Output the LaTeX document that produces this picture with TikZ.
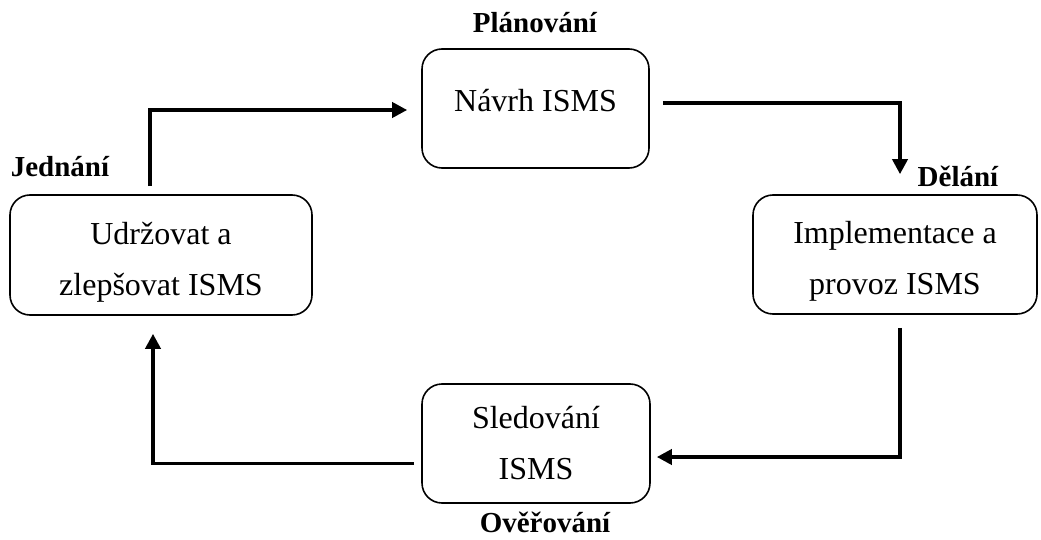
\documentclass[tikz,border=0pt]{standalone}
\usepackage{fontspec}
\setmainfont{Liberation Serif}
\usepackage{tikz}
\usetikzlibrary{positioning, arrows.meta}

\begin{document}
\begin{tikzpicture}[
  x=1pt, y=-1pt,
  stage/.style={rectangle, rounded corners=20pt, draw, line width=1.6pt,
                minimum height=119pt, align=center, inner sep=0pt,
                font=\fontsize{32}{51}\selectfont},
  phase/.style={font=\fontsize{29}{34}\selectfont\bfseries, inner sep=0pt,
                anchor=base},
  arr/.style={-{Triangle[length=15pt, width=15pt]}, line width=3.6pt}
]
\useasboundingbox (0,0) rectangle (1041,540);

% Boxes of the cycle
\node[stage, minimum width=227pt, text depth=16pt] (navrh) at (535.5,108.5) {Návrh ISMS};
\node[stage, minimum width=284pt] (impl) at (895,254.5) {\rule{0pt}{36pt}Implementace a\\provoz ISMS};
\node[stage, minimum width=228pt] (sled) at (536,443.5) {Sledování\\ISMS};
\node[stage, minimum width=302pt, minimum height=120pt] (udrz) at (161,255) {\rule{0pt}{36pt}Udržovat a\\zlepšovat ISMS};

% Phase labels
\node[phase] (plan) at (535,33) {Plánování};
\node[phase] (dela) at (958,186) {Dělání};
\node[phase] (over) at (545,532) {Ověřování};
\node[phase] (jedn) at (60,177) {Jednání};

% Arrows
\draw[arr] ([xshift=-11pt, yshift=8pt]udrz.north) |- ([xshift=-14pt, yshift=-1.5pt]navrh.west);
\draw[arr] ([xshift=13pt, yshift=5.5pt]navrh.east) -| ([xshift=5pt, yshift=20pt]impl.north);
\draw[arr] ([xshift=5pt, yshift=-13pt]impl.south) |- ([xshift=6pt, yshift=-13.5pt]sled.east);
\draw[arr] ([xshift=-7pt, yshift=-20pt]sled.west) -| ([xshift=-8pt, yshift=-18pt]udrz.south);
\end{tikzpicture}
\end{document}
